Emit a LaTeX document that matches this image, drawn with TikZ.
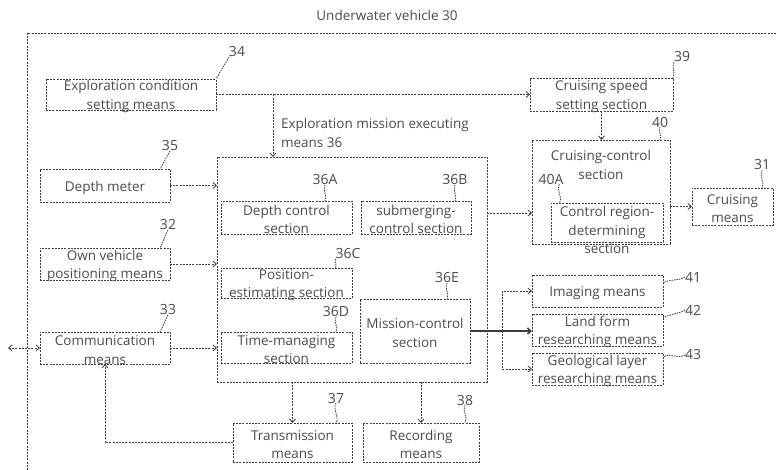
\documentclass[tikz,border=0pt]{standalone}
\usepackage{fontspec}
\setmainfont{Open Sans}
\usetikzlibrary{arrows.meta}
\definecolor{uvInk}{HTML}{3C3C3C}
\definecolor{uvText}{HTML}{4A4A4A}
\tikzset{
  uv diagram/.style={
    x=1pt, y=-1pt, line width=0.8pt, draw=uvInk,
    >={Straight Barb[length=3.5pt,width=6pt]},
    every node/.style={font=\fontsize{13.5}{18.5}\selectfont,
      text=uvText, inner sep=0pt, outer sep=0pt}
  },
  uv box/.style={draw=uvInk, dash pattern=on 2pt off 1.2pt},
  uv text/.style={align=center},
  uv link/.style={draw=uvInk, dash pattern=on 2pt off 1.2pt},
  uv main/.style={draw=uvInk, line width=1.4pt},
  uv lead/.style={draw=uvInk, dash pattern=on 1.5pt off 1pt},
  uv num/.style={font=\fontsize{14}{16}\selectfont}
}
\newcommand{\UvBox}[6]{%
  \node[uv box, minimum width={#4-#2}, minimum height={#5-#3}]
    (#1) at ({(#2+#4)/2},{(#3+#5)/2}) {};
  \node[uv text] (#1 text) at ([yshift=-2pt]#1.center) {#6};
}

\begin{document}
\begin{tikzpicture}[uv diagram]
  \useasboundingbox (0,0) rectangle (777,470);
  % vehicle frame
  \draw[uv link] (27,470) -- (27,33) -- (777,33);
  \node (title) at (387,15) {Underwater vehicle 30};

  % boxes
  \UvBox{expl}{46}{79}{216}{110}{Exploration condition\\setting means}
  \UvBox{speed}{530}{78}{673}{111}{Cruising speed\\setting section}
  \UvBox{depth}{40}{169}{170}{202}{Depth meter}
  \UvBox{ownpos}{40}{248}{170}{280}{Own vehicle\\positioning means}
  \UvBox{comm}{40}{332}{170}{364}{Communication\\means}
  \node[uv box, minimum width=270, minimum height=225] (mission) at (352,269.5) {};
  \node[align=left, anchor=west] (missiontitle) at (281,133)
    {Exploration mission executing\\means 36};
  \UvBox{dctl}{221}{201}{352}{234}{Depth control\\section}
  \UvBox{subm}{361}{201}{471}{234}{submerging-\\control section}
  \UvBox{posest}{221}{268}{352}{298}{Position-\\estimating section}
  \UvBox{timem}{221}{332}{352}{363}{Time-managing\\section}
  \UvBox{mctl}{360}{299}{470}{363}{Mission-control\\section}
  \UvBox{trans}{233}{423}{352}{462}{Transmission\\means}
  \UvBox{record}{363}{423}{479}{462}{Recording\\means}
  \node[uv box, minimum width=138, minimum height=104] (cruise) at (601,192) {};
  \node[align=center] (cruisetitle) at (601,165) {Cruising-control\\section};
  \node[uv box, minimum width=112, minimum height=39] (ctrlreg) at (607,222.5) {};
  \node[uv text] (ctrlreg text) at (607,230) {Control region-\\determining\\section};
  \UvBox{cmeans}{692}{188}{773}{225}{Cruising\\means}
  \UvBox{imaging}{532}{275}{663}{307}{Imaging means}
  \UvBox{landform}{532}{314}{663}{346}{Land form\\researching means}
  \UvBox{geo}{532}{353}{663}{385}{Geological layer\\researching means}

  % reference numbers
  \node[uv num] (n34) at (237,52) {34};
  \node[uv num] (n39) at (682,57) {39};
  \node[uv num] (n40) at (660,122) {40};
  \node[uv num] (n40a) at (551,179) {40A};
  \node[uv num] (n31) at (762,165) {31};
  \node[uv num] (n35) at (170,146) {35};
  \node[uv num] (n32) at (168,225) {32};
  \node[uv num] (n33) at (168,310) {33};
  \node[uv num] (n36a) at (325,180) {36A};
  \node[uv num] (n36b) at (455,180) {36B};
  \node[uv num] (n36c) at (348,254) {36C};
  \node[uv num] (n36d) at (336,312) {36D};
  \node[uv num] (n36e) at (447,278) {36E};
  \node[uv num] (n37) at (336,398) {37};
  \node[uv num] (n38) at (465,400) {38};
  \node[uv num] (n41) at (693,277) {41};
  \node[uv num] (n42) at (693,310) {42};
  \node[uv num] (n43) at (693,355) {43};

  % leaders
  \draw[uv lead] (n34.south west) to[out=-120,in=60] (expl.north east);
  \draw[uv lead] (n39.south west) to[out=-120,in=60] (speed.north east);
  \draw[uv lead] (n40.south) to[out=-120,in=60] (n40.south |- cruise.north);
  \draw[uv lead] ([xshift=-4pt]n40a.south east) to[out=-120,in=60]
    ([xshift=-4pt]n40a.south east |- ctrlreg.north);
  \draw[uv lead] (n31.south) to[out=-120,in=60] (n31.south |- cmeans.north);
  \draw[uv lead] (n35.south) to[out=-120,in=60] ([xshift=-10pt]depth.north east);
  \draw[uv lead] (n32.south) to[out=-120,in=60] ([xshift=-10pt]ownpos.north east);
  \draw[uv lead] (n33.south) to[out=-120,in=60] ([xshift=-10pt]comm.north east);
  \draw[uv lead] (n36a.south) to[out=-120,in=60] (n36a.south |- dctl.north);
  \draw[uv lead] (n36b.south) to[out=-120,in=60] (n36b.south |- subm.north);
  \draw[uv lead] (n36c.south west) to[out=-120,in=60] (n36c.south west |- posest.north);
  \draw[uv lead] (n36d.south) to[out=-120,in=60] (n36d.south |- timem.north);
  \draw[uv lead] (n36e.south) to[out=-120,in=60] (n36e.south |- mctl.north);
  \draw[uv lead] (n37.south) to[out=-120,in=60] (n37.south |- trans.north);
  \draw[uv lead] (n38.south) to[out=-120,in=60] (n38.south |- record.north);
  \draw[uv lead] (n41.west) to[out=210,in=30] ([yshift=-8pt]imaging.north east);
  \draw[uv lead] (n42.west) to[out=210,in=30] ([yshift=-4pt]landform.north east);
  \draw[uv lead] (n43.west) to[out=210,in=30] ([yshift=-4pt]geo.north east);

  % connectors
  \draw[uv link,->] (expl) -- (speed);
  \coordinate (tap) at (273,94.5);
  \draw[uv link,->] (tap) -- (tap |- mission.north);
  \draw[uv link,->] (speed.south) -- (speed.south |- cruise.north);
  \draw[uv link,->] (depth) -- (depth -| mission.west);
  \draw[uv link,->] (ownpos) -- (ownpos -| mission.west);
  \draw[uv link,->] (comm) -- (comm -| mission.west);
  \coordinate (ext) at (8,348);
  \draw[uv link,<->] (ext) -- (comm);
  \draw[uv link,->] (trans) -| (comm);
  \draw[uv link,->] (trans.north |- mission.south) -- (trans);
  \draw[uv link,->] (record.north |- mission.south) -- (record);
  \draw[uv link,->] ([yshift=-21pt]cruise.west -| mission.east)
    -- ([yshift=-21pt]cruise.west);
  \draw[uv link,->] (cmeans -| cruise.east) -- (cmeans);
  \coordinate (branch) at (502,331);
  \draw[uv main] (mctl) -- (branch);
  \draw[uv main,->] (branch) -- (branch -| landform.west);
  \draw[uv link,->] (branch) |- (imaging);
  \draw[uv link,->] (branch) |- (geo);
\end{tikzpicture}
\end{document}
